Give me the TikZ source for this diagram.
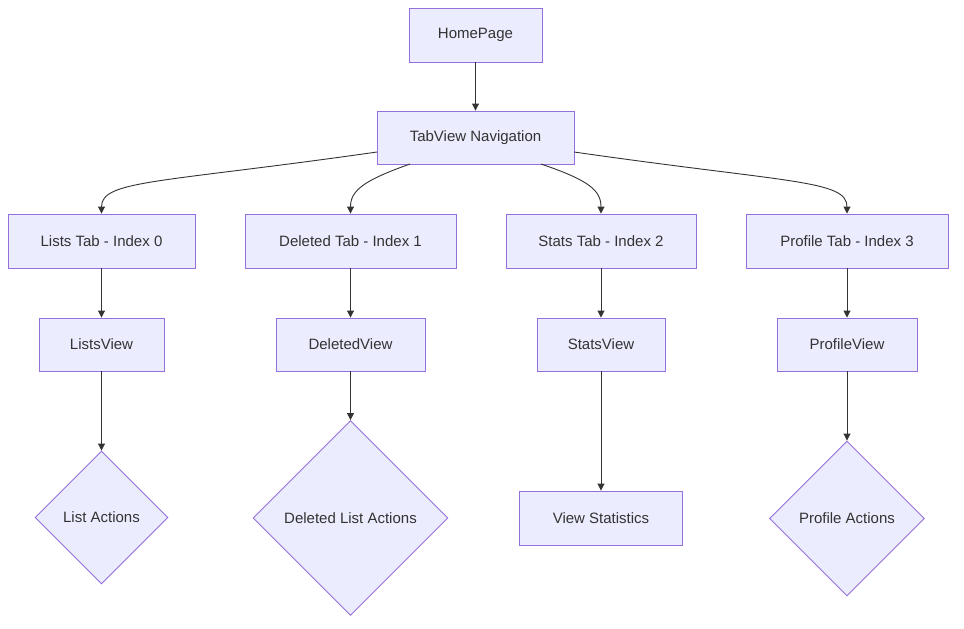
\documentclass[tikz,border=0pt]{standalone}
\usepackage{fontspec}
\setmainfont{Liberation Sans}
\usetikzlibrary{shapes.geometric,arrows.meta}
\definecolor{nfill}{HTML}{ECECFF}
\definecolor{nstroke}{HTML}{9370DB}
\definecolor{edge}{HTML}{333333}
\tikzset{
  box/.style={draw=nstroke,fill=nfill,line width=0.9pt,inner sep=0pt,font=\fontsize{15}{18}\selectfont,text=edge},
  dia/.style={box,diamond,aspect=1},
  conn/.style={draw=edge,line width=0.9pt,-{Triangle[length=7pt,width=7pt]}}
}
\begin{document}
\begin{tikzpicture}[x=1pt,y=-1pt]
\path[use as bounding box,fill=white] (0,0) rectangle (964,629);
\node[box,minimum width=133pt,minimum height=54pt] (home) at (475.5,35) {HomePage};
\node[box,minimum width=197pt,minimum height=53pt] (tab) at (475.5,137.5) {TabView Navigation};
\node[box,minimum width=187pt,minimum height=54pt] (t0) at (101.5,241) {Lists Tab - Index 0};
\node[box,minimum width=211pt,minimum height=54pt] (t1) at (350.5,241) {Deleted Tab - Index 1};
\node[box,minimum width=190pt,minimum height=54pt] (t2) at (601,241) {Stats Tab - Index 2};
\node[box,minimum width=202pt,minimum height=54pt] (t3) at (847,241) {Profile Tab - Index 3};
\node[box,minimum width=125pt,minimum height=53pt] (v0) at (101.5,344.5) {ListsView};
\node[box,minimum width=149pt,minimum height=53pt] (v1) at (350.5,344.5) {DeletedView};
\node[box,minimum width=128pt,minimum height=53pt] (v2) at (601,344.5) {StatsView};
\node[box,minimum width=140pt,minimum height=53pt] (v3) at (847,344.5) {ProfileView};
\node[dia,minimum width=133pt,minimum height=133pt] (a0) at (101.5,517.5) {List Actions};
\node[dia,minimum width=195pt,minimum height=195pt] (a1) at (350.5,518) {Deleted List Actions};
\node[box,minimum width=163pt,minimum height=54pt] (a2) at (601,518) {View Statistics};
\node[dia,minimum width=155pt,minimum height=155pt] (a3) at (847,518.5) {Profile Actions};

\draw[conn] (home) -- (tab);
\coordinate (s0) at (377,152);
\coordinate (s1) at (410,164);
\coordinate (s2) at (541,164);
\coordinate (s3) at (574,152);
\draw[conn] (s0) .. controls (160,183) and (101.5,180) .. (t0.north);
\draw[conn] (s1) .. controls (365,180) and (350.5,190) .. (t1.north);
\draw[conn] (s2) .. controls (588,180) and (601,190) .. (t2.north);
\draw[conn] (s3) .. controls (790,183) and (847,180) .. (t3.north);
\draw[conn] (t0) -- (v0);
\draw[conn] (t1) -- (v1);
\draw[conn] (t2) -- (v2);
\draw[conn] (t3) -- (v3);
\draw[conn] (v0) -- (a0.north);
\draw[conn] (v1) -- (a1.north);
\draw[conn] (v2) -- (a2.north);
\draw[conn] (v3) -- (a3.north);
\end{tikzpicture}
\end{document}
